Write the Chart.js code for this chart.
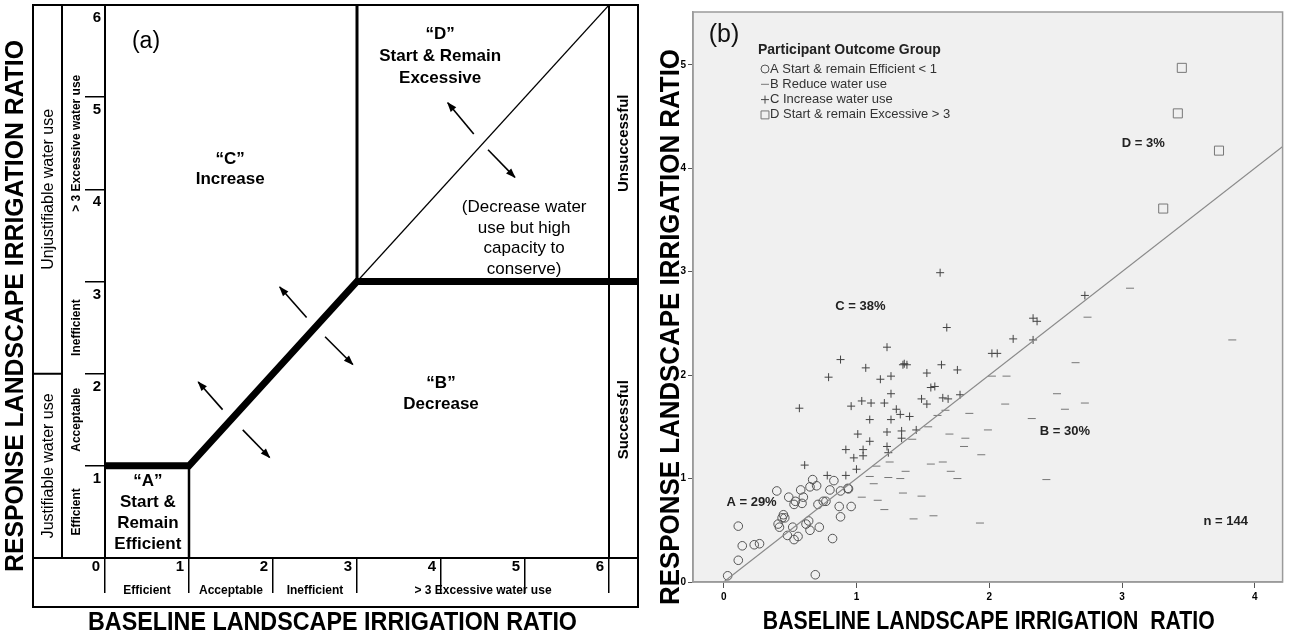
<!DOCTYPE html>
<html>
<head>
<meta charset="utf-8">
<script src="https://cdn.jsdelivr.net/npm/chart.js@4.4.1/dist/chart.umd.min.js"></script>
<style>
    html, body { margin: 0; padding: 0; background: #fff; }
    #wrap { position: relative; width: 1290px; height: 638px; }
    .panel { position: absolute; top: 0; width: 645px; height: 638px; }
    #panelA { left: 0; }
    #panelB { left: 645px; }
</style>
</head>
<body>
<div id="wrap">
    <div class="panel" id="panelA"><canvas id="chartA"></canvas></div>
    <div class="panel" id="panelB"><canvas id="chartB"></canvas></div>
</div>
<script>
const FONT = '"Liberation Sans", Arial, sans-serif';

// ---------- (a) conceptual diagram ----------
const ratioTicks = [0, 1, 2, 3, 4, 5, 6];
const boundaryX = [0, 1, 3, 6];
const boundaryY = [1, 1, 3, 3];
const diagonalX = [3, 6];
const diagonalY = [3, 6];
const efficientEdgeX = [1, 1];
const efficientEdgeY = [0, 1];
const excessiveEdgeX = [3, 3];
const excessiveEdgeY = [3, 6];
const arrowStartX = [1.40, 1.64, 2.40, 2.62, 4.39, 4.56];
const arrowStartY = [1.61, 1.39, 2.61, 2.40, 4.60, 4.43];
const arrowEndX = [1.11, 1.96, 2.08, 2.95, 4.08, 4.88];
const arrowEndY = [1.91, 1.09, 2.94, 2.10, 4.94, 4.13];
const useClassEdges = [0, 1, 2, 3, 6];
const useClassNames = ['Efficient', 'Acceptable', 'Inefficient', '> 3 Excessive water use'];
const justifyEdges = [0, 2, 6];
const justifyNames = ['Justifiable water use', 'Unjustifiable water use'];
const outcomeEdges = [0, 3, 6];
const outcomeNames = ['Successful', 'Unsuccessful'];

// ---------- (b) participants ----------
const groupNames = ['A Start & remain Efficient < 1', 'B Reduce water use', 'C Increase water use', 'D Start & remain Excessive > 3'];
const groupShares = ['A = 29%', 'B = 30%', 'C = 38%', 'D = 3%'];
const sampleNote = 'n = 144';
const baselineTicks = [0, 1, 2, 3, 4];
const responseTicks = [0, 1, 2, 3, 4, 5];
const refLine = [0, 4.4]; // 1:1 line, same values on both axes

const aBaseline = [0.03, 0.11, 0.14, 0.23, 0.27, 0.11, 0.40, 0.42, 0.44, 0.45, 0.46, 0.49, 0.48, 0.52, 0.53, 0.54, 0.53, 0.56, 0.58, 0.59, 0.60,
    0.62, 0.64, 0.65, 0.67, 0.65, 0.70, 0.71, 0.72, 0.69, 0.75, 0.77, 0.80, 0.82, 0.83, 0.87, 0.88, 0.88, 0.94, 0.935, 0.96, 0.41];
const aResponse = [0.06, 0.21, 0.35, 0.36, 0.37, 0.54, 0.88, 0.53, 0.62, 0.65, 0.62, 0.82, 0.45, 0.53, 0.75, 0.78, 0.41, 0.44, 0.89, 0.76, 0.82,
    0.56, 0.59, 0.92, 0.99, 0.50, 0.93, 0.75, 0.53, 0.07, 0.78, 0.78, 0.89, 0.42, 0.98, 0.73, 0.88, 0.63, 0.90, 0.905, 0.73, 0.56];

const bBaseline = [2.74, 2.65, 2.51, 2.72, 2.57, 2.32, 2.13, 2.02, 2.12, 1.85, 1.99, 1.70, 1.82, 1.81, 1.94, 1.56, 1.65, 1.71, 1.76, 1.37, 1.33,
    1.35, 1.49, 2.43, 1.61, 1.42, 1.54, 3.06, 3.83, 1.58, 1.43, 1.93, 1.16, 1.04, 1.21, 1.24, 1.10, 1.13, 1.15, 1.25, 1.67];
const bResponse = [2.56, 2.12, 1.82, 1.73, 1.67, 1.58, 1.99, 1.99, 1.72, 1.63, 1.47, 1.43, 1.39, 1.31, 1.23, 1.14, 1.16, 1.07, 1.00, 1.07, 1.00,
    0.86, 0.83, 0.99, 1.61, 1.38, 1.50, 2.84, 2.34, 0.64, 0.61, 0.57, 0.79, 0.82, 0.70, 1.01, 1.02, 0.95, 1.12, 1.16, 1.66];

const cBaseline = [0.57, 0.61, 0.79, 0.78, 0.88, 0.92, 0.92, 0.96, 0.98, 1.00, 1.01, 1.04, 1.05, 1.05, 1.07, 1.10, 1.10, 1.11, 1.18, 1.21, 1.23,
    1.23, 1.23, 1.24, 1.26, 1.26, 1.26, 1.30, 1.33, 1.34, 1.35, 1.36, 1.38, 1.34, 1.40, 1.45, 1.49, 1.53, 1.53, 1.56, 1.59, 1.64, 1.65, 1.69,
    1.68, 1.76, 1.78, 1.63, 2.72, 2.33, 2.36, 2.18, 2.33, 2.02, 2.06];
const cResponse = [1.68, 1.13, 1.98, 1.03, 2.15, 1.03, 1.28, 1.70, 1.20, 1.09, 1.43, 1.75, 1.22, 1.28, 2.07, 1.36, 1.57, 1.73, 1.96, 1.73, 2.27,
    1.45, 1.31, 1.25, 1.82, 1.57, 1.99, 1.67, 1.62, 1.46, 2.10, 2.11, 2.10, 1.39, 1.60, 1.47, 1.77, 2.02, 1.72, 1.88, 1.89, 2.10, 1.78, 1.77,
    2.46, 2.05, 1.81, 2.99, 2.77, 2.55, 2.52, 2.35, 2.34, 2.21, 2.21];

const dBaseline = [3.45, 3.42, 3.73, 3.31];
const dResponse = [4.97, 4.53, 4.17, 3.61];

function pts(xs, ys) {
    return xs.map((x, i) => ({ x, y: ys[i] }));
}

function drawText(ctx, text, x, y, font, opts = {}) {
    ctx.save();
    ctx.font = font;
    ctx.fillStyle = opts.color || '#000';
    ctx.translate(x, y);
    if (opts.vertical) ctx.rotate(-Math.PI / 2);
    const w = ctx.measureText(text).width;
    if (opts.fit && w > opts.fit) ctx.scale(opts.fit / w, 1);
    ctx.textAlign = opts.align || 'center';
    ctx.textBaseline = 'middle';
    ctx.fillText(text, 0, 0);
    ctx.restore();
}

// arrow heads at the end of the little direction arrows
const arrowHeads = {
    id: 'arrowHeads',
    afterDatasetsDraw(chart) {
        const ctx = chart.ctx;
        chart.data.datasets.forEach((ds, i) => {
            if (!ds.arrow) return;
            const pts = chart.getDatasetMeta(i).data;
            const a = pts[0], b = pts[pts.length - 1];
            const ang = Math.atan2(b.y - a.y, b.x - a.x);
            ctx.save();
            ctx.translate(b.x, b.y);
            ctx.rotate(ang);
            ctx.beginPath();
            ctx.moveTo(1, 0);
            ctx.lineTo(-9, -3.6);
            ctx.lineTo(-9, 3.6);
            ctx.closePath();
            ctx.fillStyle = '#000';
            ctx.fill();
            ctx.restore();
        });
    }
};

// frame, side columns and text of panel (a)
const frameA = {
    id: 'frameA',
    afterDraw(chart) {
        const { ctx, chartArea: ca, scales: { x, y } } = chart;
        const L = ca.left - 72, R = ca.right + 29, T = ca.top, B = ca.bottom + 49;
        const colDiv = ca.left - 43;
        ctx.save();
        ctx.strokeStyle = '#000';
        ctx.lineWidth = 2;
        ctx.strokeRect(L, T, R - L, B - T);
        ctx.beginPath();
        ctx.moveTo(colDiv, T); ctx.lineTo(colDiv, ca.bottom);
        ctx.moveTo(L, ca.bottom); ctx.lineTo(R, ca.bottom);
        ctx.moveTo(ca.right, T); ctx.lineTo(ca.right, ca.bottom);
        const yj = y.getPixelForValue(justifyEdges[1]);
        ctx.moveTo(L, yj); ctx.lineTo(colDiv, yj);
        ctx.stroke();
        // boundary continues through the outcome column
        ctx.lineWidth = 7;
        const yo = y.getPixelForValue(outcomeEdges[1]);
        ctx.beginPath();
        ctx.moveTo(ca.right - 2, yo); ctx.lineTo(R, yo);
        ctx.stroke();
        ctx.restore();

        justifyNames.forEach((name, i) => {
            const cy = (y.getPixelForValue(justifyEdges[i]) + y.getPixelForValue(justifyEdges[i + 1])) / 2;
            drawText(ctx, name, (L + colDiv) / 2 + 1, cy, `16px ${FONT}`, { vertical: true });
        });
        useClassNames.forEach((name, i) => {
            const cy = (y.getPixelForValue(useClassEdges[i]) + y.getPixelForValue(useClassEdges[i + 1])) / 2;
            drawText(ctx, name, colDiv + 15, cy, `bold 12px ${FONT}`, { vertical: true });
            const cx = (x.getPixelForValue(useClassEdges[i]) + x.getPixelForValue(useClassEdges[i + 1])) / 2;
            drawText(ctx, name, cx, ca.bottom + 33, `bold 12px ${FONT}`);
        });
        outcomeNames.forEach((name, i) => {
            const cy = (y.getPixelForValue(outcomeEdges[i]) + y.getPixelForValue(outcomeEdges[i + 1])) / 2;
            drawText(ctx, name, (ca.right + R) / 2, cy, `bold 15px ${FONT}`, { vertical: true });
        });

        const notes = [
            { at: [1.49, 4.33], lh: 20, bold: true, lines: ['“C”', 'Increase'] },
            { at: [3.99, 5.68], lh: 22, bold: true, lines: ['“D”', 'Start & Remain', 'Excessive'] },
            { at: [4.99, 3.80], lh: 20.5, bold: false, lines: ['(Decrease water', 'use but high', 'capacity to', 'conserve)'] },
            { at: [4.00, 1.89], lh: 21, bold: true, lines: ['“B”', 'Decrease'] },
            { at: [0.51, 0.83], lh: 21, bold: true, lines: ['“A”', 'Start &', 'Remain', 'Efficient'] }
        ];
        notes.forEach(n => {
            const px = x.getPixelForValue(n.at[0]);
            const py = y.getPixelForValue(n.at[1]);
            n.lines.forEach((s, k) => drawText(ctx, s, px, py + k * n.lh, `${n.bold ? 'bold ' : ''}17px ${FONT}`));
        });
        drawText(ctx, '(a)', ca.left + 41, ca.top + 37, `23px ${FONT}`);

        drawText(ctx, 'BASELINE LANDSCAPE IRRIGATION RATIO', (L + R) / 2 - 3, B + 16, `bold 26px ${FONT}`, { fit: 489 });
        drawText(ctx, 'RESPONSE LANDSCAPE IRRIGATION RATIO', L - 17, (T + B) / 2, `bold 26px ${FONT}`, { vertical: true, fit: 532 });
    }
};

const lineDs = (xs, ys, width) => ({
    data: pts(xs, ys), borderColor: '#000', borderWidth: width, pointRadius: 0,
    borderJoinStyle: 'miter', borderCapStyle: 'butt', fill: false
});

const datasetsA = [
    lineDs(boundaryX, boundaryY, 7),
    lineDs(diagonalX, diagonalY, 1.2),
    lineDs(efficientEdgeX, efficientEdgeY, 2.5),
    lineDs(excessiveEdgeX, excessiveEdgeY, 3)
];
arrowStartX.forEach((sx, i) => {
    datasetsA.push({ ...lineDs([sx, arrowEndX[i]], [arrowStartY[i], arrowEndY[i]], 1.6), arrow: true });
});

new Chart(document.getElementById('chartA'), {
    type: 'line',
    data: { datasets: datasetsA },
    options: {
        responsive: true,
        maintainAspectRatio: false,
        animation: false,
        events: [],
        layout: { padding: { left: 65, right: 36, top: 5, bottom: 31 } },
        plugins: { legend: { display: false }, tooltip: { enabled: false } },
        scales: {
            x: {
                type: 'linear', min: 0, max: 6,
                afterBuildTicks: ax => { ax.ticks = ratioTicks.map(v => ({ value: v })); },
                afterFit: ax => { ax.height = 49; },
                grid: { drawOnChartArea: false, tickLength: 35, color: '#000', lineWidth: 1.5 },
                border: { color: '#000', width: 2 },
                ticks: { padding: -35, labelOffset: -9, color: '#000', font: { family: FONT, weight: 'bold', size: 15 } }
            },
            y: {
                type: 'linear', min: 0, max: 6,
                afterBuildTicks: ax => { ax.ticks = ratioTicks.map(v => ({ value: v })); },
                afterFit: ax => { ax.width = 40; },
                grid: { drawOnChartArea: false, tickLength: 20, color: '#000', lineWidth: 1.5 },
                border: { color: '#000', width: 2 },
                ticks: {
                    padding: -16, labelOffset: 13, color: '#000', font: { family: FONT, weight: 'bold', size: 15 },
                    callback: v => (v === 0 ? '' : v)
                }
            }
        }
    },
    plugins: [frameA, arrowHeads]
});

// ---------- panel (b) ----------
const markerStyles = [
    { pointStyle: 'circle', radius: 4.3, color: '#555' },
    { pointStyle: 'line', radius: 4, color: '#777' },
    { pointStyle: 'cross', radius: 4, color: '#444' },
    { pointStyle: 'rect', radius: 6.4, color: '#777' }
];

function drawMarker(ctx, style, x, y) {
    ctx.save();
    ctx.strokeStyle = style.color;
    ctx.lineWidth = 1;
    const r = style.radius;
    ctx.beginPath();
    if (style.pointStyle === 'circle') ctx.arc(x, y, r, 0, Math.PI * 2);
    else if (style.pointStyle === 'line') { ctx.moveTo(x - r, y); ctx.lineTo(x + r, y); }
    else if (style.pointStyle === 'cross') { ctx.moveTo(x - r, y); ctx.lineTo(x + r, y); ctx.moveTo(x, y - r); ctx.lineTo(x, y + r); }
    else { const s = r * Math.SQRT1_2; ctx.rect(x - s, y - s, 2 * s, 2 * s); }
    ctx.stroke();
    ctx.restore();
}

const frameB = {
    id: 'frameB',
    beforeDraw(chart) {
        const { ctx, chartArea: ca } = chart;
        ctx.save();
        ctx.fillStyle = '#f0f0f0';
        ctx.fillRect(ca.left, ca.top, ca.right - ca.left, ca.bottom - ca.top);
        ctx.restore();
    },
    beforeDatasetsDraw(chart) {
        const { ctx, chartArea: ca } = chart;
        // axis title sits behind the tick labels
        drawText(ctx, 'RESPONSE LANDSCAPE IRRIGATION RATIO', ca.left - 21, 327, `bold 27px ${FONT}`, { vertical: true, fit: 556 });
    },
    afterDraw(chart) {
        const { ctx, chartArea: ca, scales: { x, y } } = chart;
        ctx.save();
        ctx.strokeStyle = '#9a9a9a';
        ctx.lineWidth = 1.5;
        ctx.strokeRect(ca.left, ca.top, ca.right - ca.left, ca.bottom - ca.top);
        ctx.restore();

        drawText(ctx, '(b)', ca.left + 31, ca.top + 23, `25px ${FONT}`, { color: '#111' });
        drawText(ctx, 'Participant Outcome Group', ca.left + 65, ca.top + 38, `bold 14px ${FONT}`, { align: 'left', color: '#222' });
        groupNames.forEach((name, i) => {
            const yy = ca.top + 57 + 15.3 * i;
            const st = { ...markerStyles[i], radius: Math.min(markerStyles[i].radius, 4) };
            drawMarker(ctx, i === 3 ? { ...markerStyles[i], radius: 5.6 } : st, ca.left + 72, yy);
            drawText(ctx, name, ca.left + 77, yy, `13px ${FONT}`, { align: 'left', color: '#333' });
        });

        const shareAt = [[0.21, 0.77], [2.57, 1.46], [1.03, 2.66], [3.16, 4.24]];
        groupShares.forEach((s, i) => {
            drawText(ctx, s, x.getPixelForValue(shareAt[i][0]), y.getPixelForValue(shareAt[i][1]), `bold 13px ${FONT}`, { color: '#222' });
        });
        drawText(ctx, sampleNote, x.getPixelForValue(3.78), y.getPixelForValue(0.59), `bold 13px ${FONT}`, { color: '#222' });

        drawText(ctx, 'BASELINE LANDSCAPE IRRIGATION  RATIO', (ca.left + ca.right) / 2 + 1, 622, `bold 26px ${FONT}`, { fit: 452 });
    }
};

const datasetsB = [[aBaseline, aResponse], [bBaseline, bResponse], [cBaseline, cResponse], [dBaseline, dResponse]].map(([xs, ys], i) => ({
    label: groupNames[i],
    data: pts(xs, ys),
    pointStyle: markerStyles[i].pointStyle,
    pointRadius: markerStyles[i].radius,
    pointBorderColor: markerStyles[i].color,
    pointBackgroundColor: 'rgba(0,0,0,0)',
    pointBorderWidth: 1
}));
datasetsB.unshift({
    type: 'line',
    data: pts(refLine, refLine),
    borderColor: '#8a8a8a',
    borderWidth: 1.2,
    pointRadius: 0
});

new Chart(document.getElementById('chartB'), {
    type: 'scatter',
    data: { datasets: datasetsB },
    options: {
        responsive: true,
        maintainAspectRatio: false,
        animation: false,
        events: [],
        layout: { padding: { left: 0, right: 2, top: 12, bottom: 0 } },
        plugins: { legend: { display: false }, tooltip: { enabled: false } },
        scales: {
            x: {
                type: 'linear', min: -0.231, max: 4.209,
                afterBuildTicks: ax => { ax.ticks = baselineTicks.map(v => ({ value: v })); },
                afterFit: ax => { ax.height = 56; },
                grid: { drawOnChartArea: false, tickLength: 6, color: '#555' },
                border: { color: '#9a9a9a', width: 1.5 },
                ticks: { padding: 3, color: '#000', font: { family: FONT, weight: 'bold', size: 10 } }
            },
            y: {
                type: 'linear', min: 0, max: 5.51,
                afterBuildTicks: ax => { ax.ticks = responseTicks.map(v => ({ value: v })); },
                afterFit: ax => { ax.width = 48; },
                grid: { drawOnChartArea: false, tickLength: 5, color: '#555' },
                border: { color: '#9a9a9a', width: 1.5 },
                ticks: { padding: 2, color: '#000', font: { family: FONT, weight: 'bold', size: 10 } }
            }
        }
    },
    plugins: [frameB]
});
</script>
</body>
</html>
